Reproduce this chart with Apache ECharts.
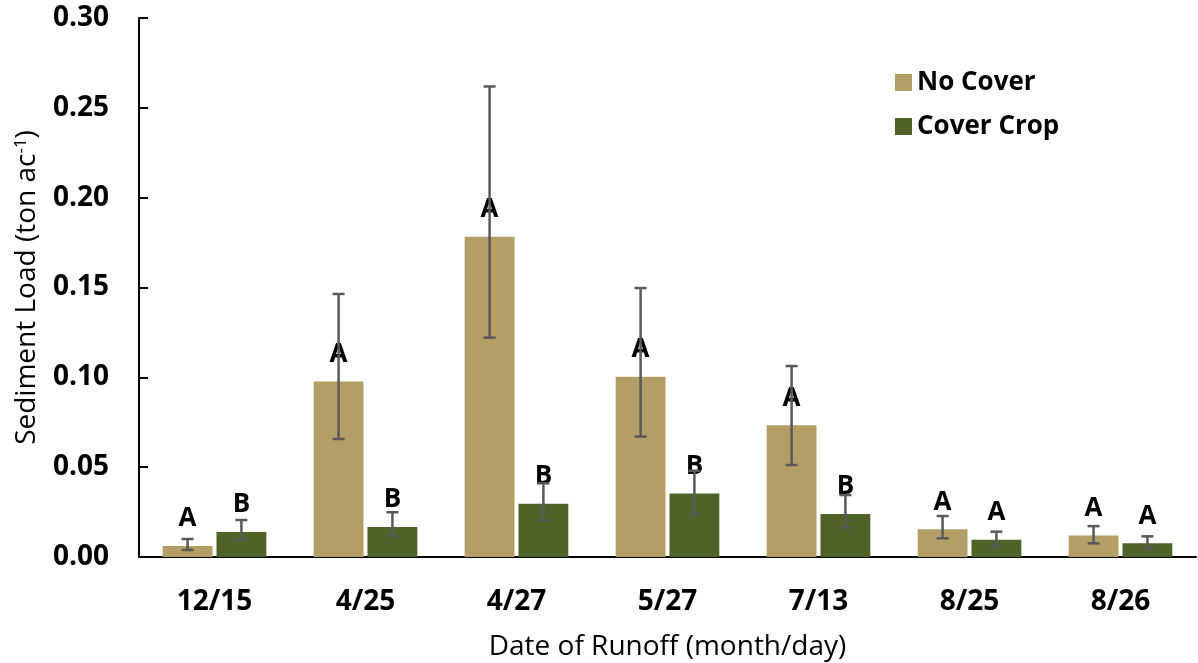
<!DOCTYPE html>
<html>
<head>
<meta charset="utf-8">
<script src="https://cdn.jsdelivr.net/npm/echarts@6/dist/echarts.min.js"></script>
<style>html,body{margin:0;padding:0;background:#fff}#c{width:1198px;height:663px}</style>
</head>
<body>
<div id="c"></div>
<script>
const categories = ['12/15', '4/25', '4/27', '5/27', '7/13', '8/25', '8/26'];
const noCover = [0.0061, 0.0977, 0.1783, 0.1003, 0.0733, 0.0154, 0.0119];
const noCoverLow = [0.0039, 0.0657, 0.1221, 0.0670, 0.0512, 0.0104, 0.0076];
const noCoverHigh = [0.0100, 0.1464, 0.2619, 0.1497, 0.1063, 0.0228, 0.0172];
const coverCrop = [0.0139, 0.0167, 0.0297, 0.0354, 0.0239, 0.0096, 0.0076];
const coverCropLow = [0.0096, 0.0117, 0.0204, 0.0239, 0.0163, 0.0061, 0.0048];
const coverCropHigh = [0.0206, 0.0249, 0.0410, 0.0480, 0.0345, 0.0141, 0.0115];
const noCoverLetters = ['A', 'A', 'A', 'A', 'A', 'A', 'A'];
const coverCropLetters = ['B', 'B', 'B', 'B', 'B', 'A', 'A'];
const yTicks = { min: 0, max: 0.30, interval: 0.05 };

const BAR_W = 0.33, BAR_GAP = 0.08;
const FONT = '"Open Sans", "DejaVu Sans", sans-serif';

function errRender(sign) {
  return function (params, api) {
    const idx = api.value(0);
    const lo = api.coord([idx, api.value(1)]);
    const hi = api.coord([idx, api.value(2)]);
    const cw = api.size([1, 0])[0];
    const bw = cw * BAR_W;
    const x = lo[0] + sign * (bw / 2 + bw * BAR_GAP / 2);
    const cap = 6;
    const style = { stroke: '#595959', lineWidth: 2.5 };
    return {
      type: 'group',
      children: [
        { type: 'line', shape: { x1: x, y1: lo[1], x2: x, y2: hi[1] }, style: style },
        { type: 'line', shape: { x1: x - cap, y1: lo[1], x2: x + cap, y2: lo[1] }, style: style },
        { type: 'line', shape: { x1: x - cap, y1: hi[1], x2: x + cap, y2: hi[1] }, style: style }
      ]
    };
  };
}

const chart = echarts.init(document.getElementById('c'), null, { renderer: 'canvas' });
const labelStyle = { show: true, position: 'top', distance: 14, color: '#000', fontFamily: FONT, fontWeight: 'bold', fontSize: 26 };

chart.setOption({
  animation: false,
  backgroundColor: '#fff',
  grid: { left: 139, right: 2, top: 18, bottom: 106, containLabel: false, outerBoundsMode: 'none' },
  legend: {
    data: ['No Cover', 'Cover Crop'],
    orient: 'vertical',
    left: 890, top: 64,
    icon: 'rect', itemWidth: 17, itemHeight: 17, itemGap: 17,
    textStyle: { color: '#000', fontFamily: FONT, fontWeight: 'bold', fontSize: 26, lineHeight: 27 }
  },
  xAxis: {
    type: 'category',
    data: categories,
    axisLine: { lineStyle: { color: '#000', width: 2 } },
    axisTick: { show: false },
    axisLabel: { color: '#000', fontFamily: FONT, fontWeight: 'bold', fontSize: 28, margin: 31 },
    name: 'Date of Runoff (month/day)',
    nameLocation: 'middle', nameGap: 76,
    nameTextStyle: { color: '#000', fontFamily: FONT, fontSize: 28 }
  },
  yAxis: {
    type: 'value',
    min: yTicks.min, max: yTicks.max, interval: yTicks.interval,
    splitLine: { show: false },
    axisLine: { show: true, lineStyle: { color: '#000', width: 2 } },
    axisTick: { show: true, inside: true, length: 9, lineStyle: { color: '#000', width: 2 } },
    axisLabel: { color: '#000', fontFamily: FONT, fontWeight: 'bold', fontSize: 28, margin: 30, formatter: v => v.toFixed(2) },
    name: 'Sediment Load (ton ac{sup|-1})',
    nameLocation: 'middle', nameGap: 97, nameRotate: 90,
    nameTextStyle: {
      color: '#000', fontFamily: FONT, fontSize: 28,
      rich: { sup: { fontFamily: FONT, fontSize: 17, color: '#000', verticalAlign: 'top', padding: [0, 0, 12, 0] } }
    }
  },
  series: [
    {
      name: 'No Cover', type: 'bar', data: noCover,
      barWidth: (BAR_W * 100) + '%', barGap: (BAR_GAP * 100) + '%',
      itemStyle: { color: '#B39E65' },
      label: Object.assign({}, labelStyle, { formatter: p => noCoverLetters[p.dataIndex] })
    },
    {
      name: 'Cover Crop', type: 'bar', data: coverCrop,
      barWidth: (BAR_W * 100) + '%', barGap: (BAR_GAP * 100) + '%',
      itemStyle: { color: '#4F6228' },
      label: Object.assign({}, labelStyle, { formatter: p => coverCropLetters[p.dataIndex] })
    },
    {
      type: 'custom', z: 5, renderItem: errRender(-1),
      data: categories.map((c, i) => [i, noCoverLow[i], noCoverHigh[i]]),
      encode: { x: 0, y: [1, 2] }, silent: true
    },
    {
      type: 'custom', z: 5, renderItem: errRender(1),
      data: categories.map((c, i) => [i, coverCropLow[i], coverCropHigh[i]]),
      encode: { x: 0, y: [1, 2] }, silent: true
    }
  ]
});
</script>
</body>
</html>
